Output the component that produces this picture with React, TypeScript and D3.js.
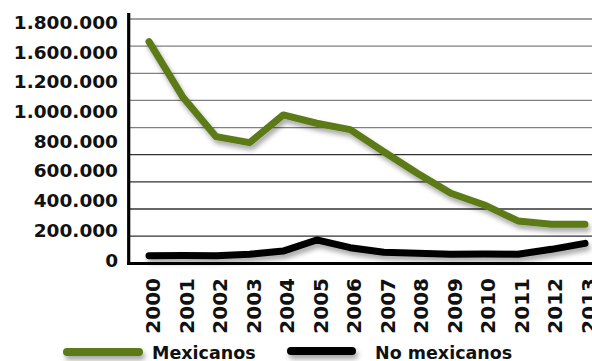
import React from "react";
import * as d3 from "d3";

const years = ["2000","2001","2002","2003","2004","2005","2006","2007","2008","2009","2010","2011","2012","2013"];
const mexicanos = [1633000,1228000,933000,889000,1093000,1032000,985000,822000,663000,516000,430000,312000,287000,287000];
const noMexicanos = [56000,57000,55000,66000,90000,172000,115000,81000,74000,66000,69000,67000,103000,147000];
const gridValues = [0,200000,400000,600000,800000,1000000,1200000,1400000,1600000,1800000];
const yTickLabels = ["1.800.000","1.600.000","1.200.000","1.000.000","800.000","600.000","400.000","200.000","0"];
const legendLabels = ["Mexicanos","No mexicanos"];

const W = 592, H = 361;
const GREEN = "#5b7a16";
const FONT = "'DejaVu Sans', sans-serif";

export default function App() {
  const x = d3.scalePoint<string>().domain(years).range([149, 585]);
  const y = d3.scaleLinear().domain([0, 1800000]).range([263.3, 19]);
  const labelY = d3.scalePoint<string>().domain(yTickLabels).range([29, 266.5]);
  const line = d3.line<number>()
    .x((_, i) => x(years[i]) as number)
    .y((d) => y(d));

  return (
    <svg width={W} height={H} style={{ position: "absolute", left: 0, top: 0, background: "#fff" }}>
      <defs>
        <filter id="sh" filterUnits="userSpaceOnUse" x="0" y="0" width={W} height={H}>
          <feDropShadow dx="2" dy="4" stdDeviation="2.5" floodColor="#000" floodOpacity="0.35" />
        </filter>
      </defs>
      {gridValues.slice(1).map((v, i) => (
        <line key={v} x1={130} x2={W} y1={y(v)} y2={y(v)}
          stroke={i < 4 ? "#333" : "#808080"} strokeWidth={1.3} />
      ))}
      <line x1={128.7} x2={128.7} y1={13} y2={265} stroke="#000" strokeWidth={3.2} />
      <line x1={127} x2={W} y1={263.5} y2={263.5} stroke="#000" strokeWidth={3.2} />
      {yTickLabels.map((t) => (
        <text key={t} x={118} y={labelY(t)} textAnchor="end" fontFamily={FONT}
          fontWeight="bold" fontSize={18.5} fill="#111">{t}</text>
      ))}
      <path d={line(noMexicanos) || ""} fill="none" stroke="#000" strokeWidth={7}
        strokeLinecap="round" strokeLinejoin="round" filter="url(#sh)" />
      <path d={line(mexicanos) || ""} fill="none" stroke={GREEN} strokeWidth={7}
        strokeLinecap="round" strokeLinejoin="round" filter="url(#sh)" />
      {years.map((yr) => (
        <text key={yr} transform={`translate(${(x(yr) as number) + 11},278) rotate(-90)`}
          textAnchor="end" fontFamily={FONT} fontWeight="bold" fontSize={20} fill="#111">{yr}</text>
      ))}
      <g>
        <rect x={63} y={348} width={80} height={8} rx={4} fill={GREEN} filter="url(#sh)" />
        <text x={152} y={359} fontFamily={FONT} fontWeight="bold" fontSize={17.5} fill="#111">{legendLabels[0]}</text>
        <rect x={287} y={347} width={69} height={8} rx={4} fill="#000" filter="url(#sh)" />
        <text x={375} y={359} fontFamily={FONT} fontWeight="bold" fontSize={17.5} fill="#111">{legendLabels[1]}</text>
      </g>
    </svg>
  );
}
